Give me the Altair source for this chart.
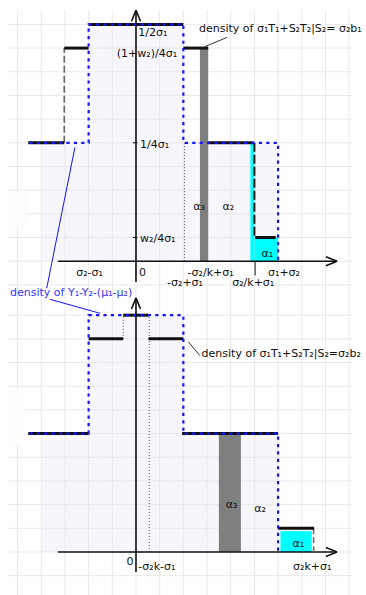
import altair as alt
import pandas as pd

# Frame: one grid cell = 1 unit, the vertical axis sits at x = 0,
# the horizontal axis of each panel at y = 0.
X_DOMAIN = [-5.743, 9.713]
TOP_Y_DOMAIN = [-1.47, 11.03]
BOT_Y_DOMAIN = [-1.816, 10.81]
PANEL_W = 366
TOP_H = 296
BOT_H = 299

# background grid
GRID_X = list(range(-5, 10))
GRID_Y = list(range(-1, 11))
GRID_X_SPAN = [-5.41, 9.12]
TOP_GRID_TOP = 10.6

# density of Y1-Y2-(mu1-mu2): dotted outline (same in both panels)
DIFF_X = [-4.5, -2, -2, 2, 2, 6, 6]
DIFF_Y = [5, 5, 10, 10, 5, 5, 0]
# light shading under it
SHADE_X0 = [-4, -2]
SHADE_X1 = [6, 2]
SHADE_Y0 = [0, 5]
SHADE_Y1 = [5, 10]

# upper panel: density of s1T1+S2T2 | S2 = s2 b1 (horizontal pieces)
B1_X0 = [-4.55, -3.03, -2.0, 2.0, 3.05, 5.03]
B1_X1 = [-3.03, -2.0, 2.0, 3.05, 4.96, 5.9]
B1_Y = [5, 9, 10, 9, 5, 1]
B1_GRAY_JUMP = [-3.03, 5, 9]       # x, from, to
B1_BLACK_JUMP = [5.0, 5, 1]
B1_BAR = [2.7, 3.05, 0, 9]         # alpha_3 strip
B1_CYAN_X0 = [4.83, 5.0]
B1_CYAN_X1 = [5.0, 6.0]
B1_CYAN_Y1 = [5, 1]
B1_MARK_DOTTED = [2.05, 0, 5]      # -s2+s1
B1_MARK_TICK = [5.03, 0, -0.6]     # s2/k+s1
B1_AXIS_TICKS = [5, 1]

# lower panel: density of s1T1+S2T2 | S2 = s2 b2
B2_X0 = [-4.55, -2.0, -0.54, 0.53, 1.95, 6.0]
B2_X1 = [-2.0, -0.54, 0.53, 2.0, 6.0, 7.52]
B2_Y = [5, 9, 10, 9, 5, 1]
B2_GRAY_JUMP = [7.5, 1, 0]
B2_BAR = [3.5, 4.43, 0, 5]
B2_CYAN = [6.1, 7.42, 0, 0.88]
B2_DOTTED_X = [-0.54, 0.56]
B2_DOTTED_Y0 = [9, 0]
B2_DOTTED_Y1 = [10, 10]

# axes: [x-axis from, x-axis to, y-axis from, y-axis to]
TOP_AXES = [-3.3, 8.49, -0.88, 10.6]
BOT_AXES = [-3.3, 8.49, -0.85, 10.73]

# texts
TOP_TEXT_LEFT = ["1/2σ₁", "1/4σ₁", "w₂/4σ₁", "density of σ₁T₁+S₂T₂|S₂= σ₂b₁"]
TOP_TEXT_LEFT_X = [0.1, 0.17, 0.17, 2.66]
TOP_TEXT_LEFT_Y = [9.62, 4.9, 0.92, 9.81]
TOP_TEXT_MID = ["(1+w₂)/4σ₁", "α₃", "α₂", "α₁", "σ₂-σ₁", "0",
                "-σ₂/k+σ₁", "-σ₂+σ₁", "σ₂/k+σ₁", "σ₁+σ₂"]
TOP_TEXT_MID_X = [0.46, 2.66, 3.9, 5.55, -1.96, 0.27, 3.15, 2.07, 4.95, 6.25]
TOP_TEXT_MID_Y = [8.73, 2.3, 2.3, 0.3, -0.48, -0.48, -0.48, -0.93, -0.93, -0.48]

BOT_TEXT_LEFT = ["-σ₂k-σ₁", "density of σ₁T₁+S₂T₂|S₂=σ₂b₂"]
BOT_TEXT_LEFT_X = [0.1, 2.77]
BOT_TEXT_LEFT_Y = [-0.62, 8.36]
BOT_TEXT_MID = ["0", "σ₂k+σ₁", "α₃", "α₂", "α₁"]
BOT_TEXT_MID_X = [-0.25, 7.44, 4.04, 5.24, 6.85]
BOT_TEXT_MID_Y = [-0.41, -0.62, 1.98, 1.8, 0.34]

DIFF_LABEL = "density of Y₁-Y₂-(μ₁-μ₂)"
DIFF_LABEL_XY = [-5.32, 10.92]

# leader lines [x, y, x2, y2]
TOP_LEADER_BLACK = [2.91, 9.06, 3.84, 9.45]
TOP_LEADER_BLUE = [-2.58, 4.8, -3.77, -1.14]
BOT_LEADER_BLUE = [-3.63, 10.67, -1.52, 10.08]
BOT_LEADER_BLACK = [2.21, 8.88, 2.70, 8.29]

# plain patches on the left margin
TOP_BLANK = [-5.41, -4.65, 1.49, 2.9]
BOT_BLANK = [-5.41, -4.69, 4.52, 6.84]

FONT = "DejaVu Sans"
BLUE = "#1414ff"
LAVENDER = "#f6f6fc"
GRID = "#e9e9e9"
FONT_SIZE = 11


def xs():
    return alt.X("x:Q", scale=alt.Scale(domain=X_DOMAIN, nice=False, zero=False), axis=None)


def ys(dom):
    return alt.Y("y:Q", scale=alt.Scale(domain=dom, nice=False, zero=False), axis=None)


def segs(x, y, x2, y2, dom, **style):
    df = pd.DataFrame({"x": x, "y": y, "x2": x2, "y2": y2})
    return alt.Chart(df).mark_rule(**style).encode(
        x=xs(), y=ys(dom), x2="x2:Q", y2="y2:Q")


def rects(x, x2, y, y2, dom, **style):
    df = pd.DataFrame({"x": x, "y": y, "x2": x2, "y2": y2})
    return alt.Chart(df).mark_rect(**style).encode(
        x=xs(), y=ys(dom), x2="x2:Q", y2="y2:Q")


def texts(labels, x, y, dom, align, color="#111", size=FONT_SIZE):
    df = pd.DataFrame({"x": x, "y": y, "t": labels})
    return alt.Chart(df).mark_text(
        align=align, baseline="middle", font=FONT, fontSize=size, color=color
    ).encode(x=xs(), y=ys(dom), text="t:N")


def grid(dom, top):
    n = len(GRID_X)
    m = len(GRID_Y)
    v = segs(GRID_X, [dom[0]] * n, GRID_X, [top] * n, dom,
             color=GRID, strokeWidth=1)
    h = segs([GRID_X_SPAN[0]] * m, GRID_Y, [GRID_X_SPAN[1]] * m, GRID_Y, dom,
             color=GRID, strokeWidth=1)
    return [v, h]


def shading(dom):
    return rects(SHADE_X0, SHADE_X1, SHADE_Y0, SHADE_Y1, dom, color=LAVENDER)


def diff_outline(dom):
    df = pd.DataFrame({"x": DIFF_X, "y": DIFF_Y, "i": range(len(DIFF_X))})
    return alt.Chart(df).mark_line(
        color=BLUE, strokeWidth=2.2, strokeDash=[3.2, 4.2], strokeCap="butt"
    ).encode(x=xs(), y=ys(dom), order="i:Q")


def axes(a, dom):
    ax0, ax1, ay0, ay1 = a
    hx, hy = 0.47, 0.19
    lines = segs(
        [ax0, 0, ax1 - hx, ax1 - hx, -hy, hy],
        [0, ay0, hy, -hy, ay1 - hx, ay1 - hx],
        [ax1, 0, ax1, ax1, 0, 0],
        [0, ay1, 0, 0, ay1, ay1],
        dom, color="#111", strokeWidth=1.6)
    return lines


def blank(b, dom):
    return rects([b[0]], [b[1]], [b[2]], [b[3]], dom, color="#fdfdfd")


# ---------------- upper panel ----------------
D = TOP_Y_DOMAIN
top_layers = [
    shading(D),
    *grid(D, TOP_GRID_TOP),
    blank(TOP_BLANK, D),
    rects([B1_BAR[0]], [B1_BAR[1]], [B1_BAR[2]], [B1_BAR[3]], D, color="#7f7f7f"),
    rects(B1_CYAN_X0, B1_CYAN_X1, [0, 0], B1_CYAN_Y1, D, color="#00ffff"),
    segs([B1_MARK_DOTTED[0]], [B1_MARK_DOTTED[1]], [B1_MARK_DOTTED[0]], [B1_MARK_DOTTED[2]], D,
         color="#555", strokeWidth=1, strokeDash=[1, 2]),
    axes(TOP_AXES, D),
    segs([-0.13] * 2, B1_AXIS_TICKS, [0.06] * 2, B1_AXIS_TICKS, D, color="#111", strokeWidth=1),
    segs([B1_MARK_TICK[0]], [B1_MARK_TICK[1]], [B1_MARK_TICK[0]], [B1_MARK_TICK[2]], D,
         color="#111", strokeWidth=1),
    segs([B1_GRAY_JUMP[0]], [B1_GRAY_JUMP[1]], [B1_GRAY_JUMP[0]], [B1_GRAY_JUMP[2]], D,
         color="#666", strokeWidth=1.6, strokeDash=[7, 3]),
    segs([B1_BLACK_JUMP[0]], [B1_BLACK_JUMP[1]], [B1_BLACK_JUMP[0]], [B1_BLACK_JUMP[2]], D,
         color="#111", strokeWidth=2, strokeDash=[9, 3]),
    segs(B1_X0, B1_Y, B1_X1, B1_Y, D, color="#111", strokeWidth=3),
    diff_outline(D),
    segs([TOP_LEADER_BLACK[0]], [TOP_LEADER_BLACK[1]], [TOP_LEADER_BLACK[2]], [TOP_LEADER_BLACK[3]], D,
         color="#333", strokeWidth=1),
    segs([TOP_LEADER_BLUE[0]], [TOP_LEADER_BLUE[1]], [TOP_LEADER_BLUE[2]], [TOP_LEADER_BLUE[3]], D,
         color=BLUE, strokeWidth=1),
    texts(TOP_TEXT_LEFT, TOP_TEXT_LEFT_X, TOP_TEXT_LEFT_Y, D, "left"),
    texts(TOP_TEXT_MID, TOP_TEXT_MID_X, TOP_TEXT_MID_Y, D, "center"),
]
top = alt.layer(*top_layers).properties(width=PANEL_W, height=TOP_H)

# ---------------- lower panel ----------------
D = BOT_Y_DOMAIN
bot_layers = [
    shading(D),
    *grid(D, BOT_Y_DOMAIN[1]),
    blank(BOT_BLANK, D),
    rects([B2_BAR[0]], [B2_BAR[1]], [B2_BAR[2]], [B2_BAR[3]], D, color="#7f7f7f"),
    rects([B2_CYAN[0]], [B2_CYAN[1]], [B2_CYAN[2]], [B2_CYAN[3]], D, color="#00ffff"),
    segs(B2_DOTTED_X, B2_DOTTED_Y0, B2_DOTTED_X, B2_DOTTED_Y1, D,
         color="#555", strokeWidth=1, strokeDash=[1, 2]),
    axes(BOT_AXES, D),
    segs([B2_GRAY_JUMP[0]], [B2_GRAY_JUMP[1]], [B2_GRAY_JUMP[0]], [B2_GRAY_JUMP[2]], D,
         color="#666", strokeWidth=1.6, strokeDash=[6, 3]),
    segs(B2_X0, B2_Y, B2_X1, B2_Y, D, color="#111", strokeWidth=3),
    diff_outline(D),
    segs([BOT_LEADER_BLACK[0]], [BOT_LEADER_BLACK[1]], [BOT_LEADER_BLACK[2]], [BOT_LEADER_BLACK[3]], D,
         color="#333", strokeWidth=1),
    segs([BOT_LEADER_BLUE[0]], [BOT_LEADER_BLUE[1]], [BOT_LEADER_BLUE[2]], [BOT_LEADER_BLUE[3]], D,
         color=BLUE, strokeWidth=1),
    texts(BOT_TEXT_LEFT, BOT_TEXT_LEFT_X, BOT_TEXT_LEFT_Y, D, "left"),
    texts(BOT_TEXT_MID, BOT_TEXT_MID_X, BOT_TEXT_MID_Y, D, "center"),
    texts([DIFF_LABEL], [DIFF_LABEL_XY[0]], [DIFF_LABEL_XY[1]], D, "left", color="#3535ff"),
]
bottom = alt.layer(*bot_layers).properties(width=PANEL_W, height=BOT_H)

chart = (
    alt.vconcat(top, bottom, spacing=0, bounds="flush", padding=0, background="white")
    .resolve_scale(x="independent", y="independent")
    .configure_view(strokeWidth=0)
)

chart.save("out.html", embed_options={"renderer": "svg", "actions": False})
